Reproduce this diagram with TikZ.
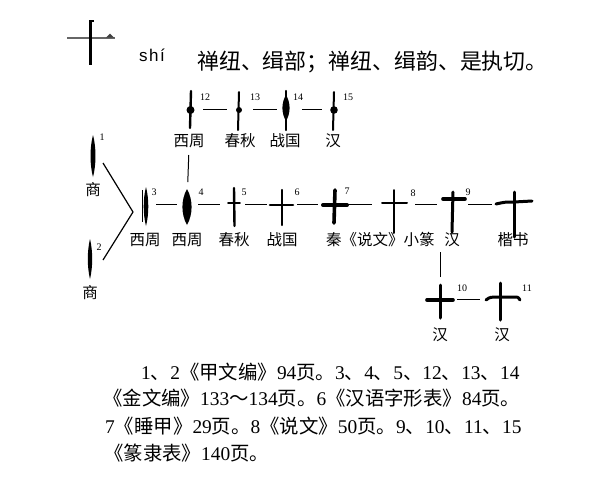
\documentclass[tikz,border=0pt]{standalone}
\usepackage{fontspec}
\newfontfamily\cjk{Noto Sans CJK SC}
\newfontfamily\lat{Liberation Serif}
\newfontfamily\pinyin{Liberation Sans}
\newcommand{\nm}[1]{{\lat #1}}
\newcommand{\lensfill}[4]{\fill (#1,#2) .. controls ({#1+1.33*#4},{#2+0.3*(#3-#2)}) and ({#1+1.33*#4},{#2+0.7*(#3-#2)}) .. (#1,#3) .. controls ({#1-1.33*#4},{#2+0.7*(#3-#2)}) and ({#1-1.33*#4},{#2+0.3*(#3-#2)}) .. (#1,#2) -- cycle;}
\begin{document}
\begin{tikzpicture}[x=1pt,y=-1pt,
  lab/.style={font=\cjk\fontsize{15.5}{15.5}\selectfont, inner sep=0pt},
  num/.style={font=\lat\fontsize{10}{10}\selectfont, inner sep=0pt},
  bot/.style={font=\cjk\fontsize{19.4}{19.4}\selectfont, inner sep=0pt, anchor=west},
  conn/.style={line width=1pt, black},
  ink/.style={line width=2.6pt, black, line cap=round},
  bar/.style={line width=2.6pt, black, line cap=round}]
\useasboundingbox (0,0) rectangle (595,483);

% ---------- header ----------
\draw[line width=2pt, black!60] (67,38) -- (115,38);
\fill[black!75] (106,37.5) -- (110,33.5) -- (114,37.5) -- cycle;
\draw[line width=3pt, black] (90,20) -- (90,65);
\draw[line width=1.5pt, black] (89,21) -- (94,21);
\node[anchor=west, font=\pinyin\fontsize{17}{17}\selectfont, inner sep=0pt] (pin) at (139,55) {s\kern1.5pt h\kern1.5pt í};
\node[anchor=west, font=\cjk\fontsize{21.9}{21.9}\selectfont, inner sep=0pt] (gloss) at (197,62) {禅纽、缉部；禅纽、缉韵、是执切。};

% ---------- glyph coordinates ----------
\coordinate (g1) at (93,156);
\coordinate (g2) at (90,259);
\coordinate (g3) at (146,204);
\coordinate (g4) at (187,204);
\coordinate (g5) at (234,204);
\coordinate (g6) at (282,204);
\coordinate (g7) at (335,204);
\coordinate (g8) at (394,204);
\coordinate (g9) at (453,204);
\coordinate (gk) at (514,204);
\coordinate (g10) at (440,299);
\coordinate (g11) at (500,299);
\coordinate (g12) at (191,109);
\coordinate (g13) at (239,109);
\coordinate (g14) at (286,109);
\coordinate (g15) at (334,109);

% ---------- glyph shapes ----------
% 1, 2
\lensfill{93}{135}{177}{2.5}
\lensfill{90}{239}{279}{2.2}
% 3
\draw[line width=0.9pt] (142,190) -- (142,222);
\lensfill{146}{187}{226}{2.3}
% 4
\lensfill{187}{189}{225}{4.6}
% 5
\draw[ink, line width=2.4pt] (234,188) -- (234.5,226);
\draw[bar, line width=1.6pt] (228,203) -- (240,203);
% 6
\draw[ink, line width=2.4pt] (282,190) -- (282,225);
\draw[bar, line width=2.6pt] (270,205) -- (293,205);
% 7
\draw[ink, line width=3.6pt] (335,190) -- (334,223);
\draw[bar, line width=4pt] (323,205) -- (347,205);
% 8
\draw[ink, line width=2pt] (394,190) -- (394,233);
\draw[bar, line width=2pt] (382,203) -- (407,203);
% 9
\draw[ink, line width=3pt] (453,192) -- (452,232);
\draw[bar, line width=3.6pt] (443,199) -- (465,199);
% kaishu
\draw[ink, line width=3pt] (514,192) -- (514,237);
\draw[bar, line width=3pt] (496,204) .. controls (505,202) .. (514,202) -- (532,201);
% 10
\draw[ink, line width=3pt] (440,285) -- (440,318);
\draw[bar, line width=3.6pt] (427,300) -- (453,300);
% 11
\draw[ink, line width=3pt] (500,283) -- (500,320);
\draw[bar, line width=3pt] (486,300) .. controls (490,297) .. (500,297) -- (514,297) .. controls (518,297) .. (520,300);
% 12-15
\draw[ink, line width=2.4pt] (191,91) -- (190,128);
\fill (190.5,110) circle (4pt);
\draw[ink, line width=2pt] (239,92) -- (238,130);
\fill (239,110) circle (3pt);
\draw[ink, line width=2.4pt] (286,91) -- (286,130);
\lensfill{286}{95}{121}{3.6}
\draw[ink, line width=2pt] (334,92) -- (333,130);
\fill (334,110) circle (3.8pt);

% ---------- superscript numbers ----------
\node[num] (n1) at (102,137) {1};
\node[num] (n2) at (99,247) {2};
\node[num] (n3) at (154,192) {3};
\node[num] (n4) at (201,192) {4};
\node[num] (n5) at (244,192) {5};
\node[num] (n6) at (297,192) {6};
\node[num] (n7) at (347,191) {7};
\node[num] (n8) at (413,193) {8};
\node[num] (n9) at (468,192) {9};
\node[num] (n10) at (462,288) {10};
\node[num] (n11) at (527,288) {11};
\node[num] (n12) at (205,97) {12};
\node[num] (n13) at (255,97) {13};
\node[num] (n14) at (298,97) {14};
\node[num] (n15) at (348,97) {15};

% ---------- labels ----------
\node[lab] (l1) at (93,190) {商};
\node[lab] (l2) at (90,293) {商};
\node[lab] (l12) at (189,141) {西周};
\node[lab] (l13) at (240,141) {春秋};
\node[lab] (l14) at (285,141) {战国};
\node[lab] (l15) at (333,141) {汉};
\node[lab] (l3) at (145,240) {西周};
\node[lab] (l4) at (187,240) {西周};
\node[lab] (l5) at (234,240) {春秋};
\node[lab] (l6) at (282,240) {战国};
\node[lab, anchor=west] (l78) at (326,240) {秦《说文》小篆};
\node[lab] (l9) at (452,240) {汉};
\node[lab] (lk) at (513,240) {楷书};
\node[lab] (l10) at (440,335) {汉};
\node[lab] (l11) at (502,335) {汉};

% ---------- connectors ----------
\coordinate (b1) at (103,163);
\coordinate (apex) at (133,212);
\coordinate (b2) at (103,260);
\draw[conn, line width=1.2pt] (b1) -- (apex) -- (b2);

\draw[conn, shorten <=12pt, shorten >=12pt] (g12) -- (g13);
\draw[conn, shorten <=14pt, shorten >=9pt] (g13) -- (g14);
\draw[conn, shorten <=16pt, shorten >=12pt] (g14) -- (g15);

\draw[conn, shorten <=10pt, shorten >=10pt] (g3) -- (g4);
\draw[conn, shorten <=11pt, shorten >=14pt] (g4) -- (g5);
\draw[conn, shorten <=11pt, shorten >=15pt] (g5) -- (g6);
\draw[conn, shorten <=15pt, shorten >=17pt] (g6) -- (g7);
\draw[conn, shorten <=13pt, shorten >=22pt] (g7) -- (g8);
\draw[conn, shorten <=21pt, shorten >=16pt] (g8) -- (g9);
\draw[conn, shorten <=15pt, shorten >=22pt] (g9) -- (gk);
\draw[conn, shorten <=17pt, shorten >=20pt] (g10) -- (g11);

\draw[conn, shorten <=7pt, shorten >=22pt] (l12.south) -- (g4);
\draw[conn, shorten <=22pt, shorten >=5pt] (g10) -- (g10 |- l9.south);

% ---------- bottom notes ----------
\node[bot] (t1) at (141,372) {\nm{1}、\nm{2}《甲文编》\nm{94}页。\nm{3}、\nm{4}、\nm{5}、\nm{12}、\nm{13}、\nm{14}};
\node[bot] (t2) at (103,398) {《金文编》\nm{133}～\nm{134}页。\nm{6}《汉语字形表》\nm{84}页。};
\node[bot] (t3) at (105,426) {\nm{7}《睡甲》\nm{29}页。\nm{8}《说文》\nm{50}页。\nm{9}、\nm{10}、\nm{11}、\nm{15}};
\node[bot] (t4) at (104,453) {《篆隶表》\nm{140}页。};
\end{tikzpicture}
\end{document}
